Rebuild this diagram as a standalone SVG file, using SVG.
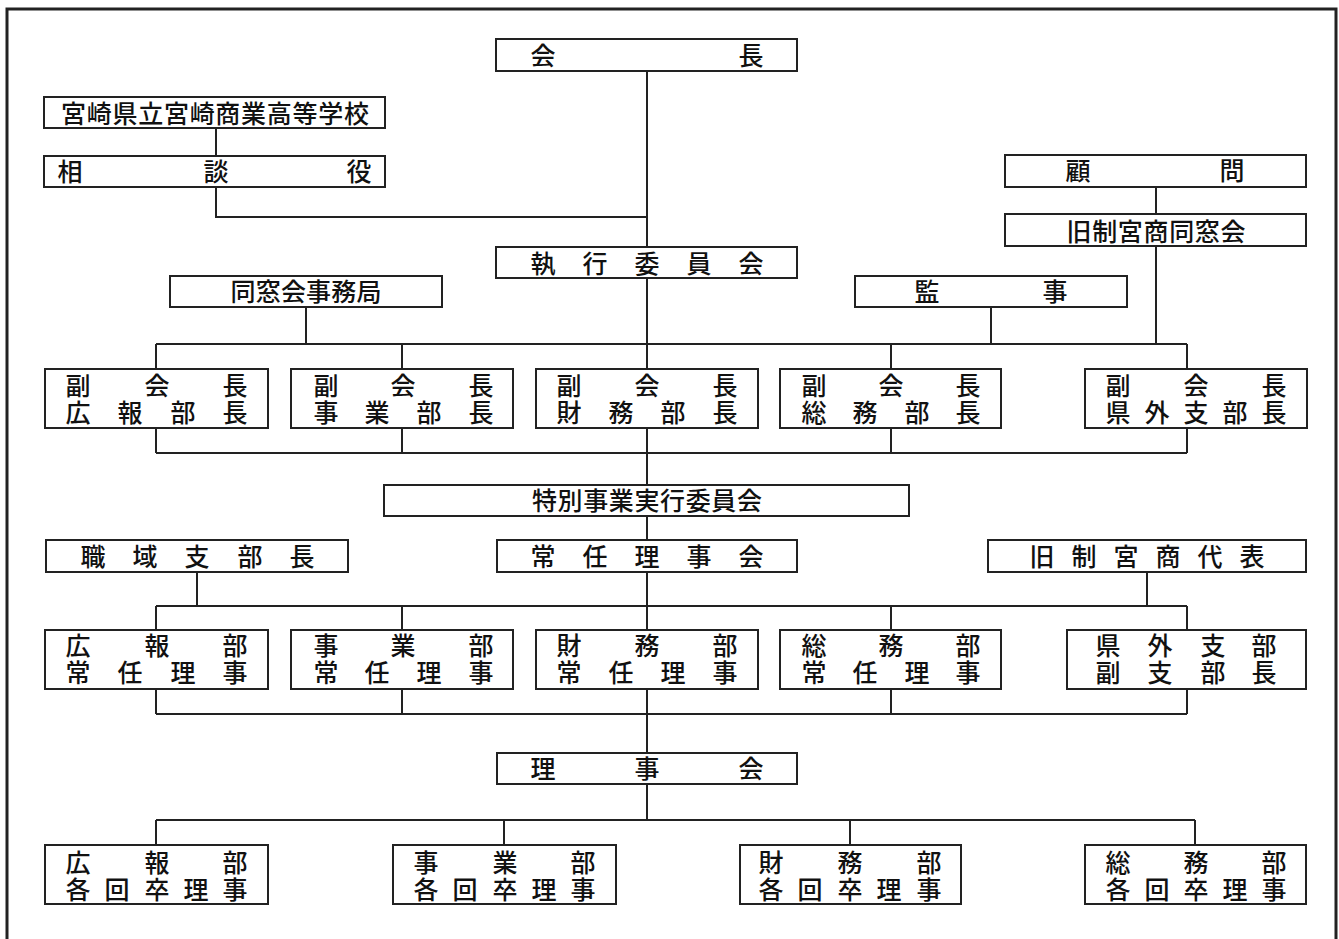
<svg xmlns="http://www.w3.org/2000/svg" width="1339" height="939" viewBox="0 0 1339 939">
<style>
.box{fill:#fff;stroke:#222;stroke-width:2}
.t{font-family:"Noto Sans CJK JP","Noto Sans CJK SC",sans-serif;font-size:25px;font-weight:500;fill:#111;text-anchor:middle}
.c{stroke:#222;stroke-width:2;fill:none}
.frame{stroke:#222;stroke-width:3;fill:none}
</style>
<rect x="0" y="0" width="1339" height="939" fill="#fff"/>
<path class="frame" d="M7,939 V9 H1336 V939"/>
<g id="connectors">
<path class="c" d="M647,71 V247 M216,128 V156 M216,187 V217 H647 M1156,187 V214 M1156,246 V344 M306,307 V344 M991,307 V344 M647,278 V369"/>
<path class="c" d="M156,344 H1187 M156,344 V369 M402,344 V369 M891,344 V369 M1187,344 V369"/>
<path class="c" d="M156,428 V453 M402,428 V453 M647,428 V485 M891,428 V453 M1187,428 V453 M156,453 H1187"/>
<path class="c" d="M647,516 V540 M647,572 V630 M197,572 V606 M1147,572 V606 M156,606 H1187 M156,606 V630 M402,606 V630 M891,606 V630 M1187,606 V630"/>
<path class="c" d="M156,689 V714 M402,689 V714 M647,689 V753 M891,689 V714 M1187,689 V714 M156,714 H1187"/>
<path class="c" d="M647,784 V820 M156,820 H1195 M156,820 V845 M504,820 V845 M850,820 V845 M1195,820 V845"/>
</g>
<g id="kaicho"><rect class="box" x="496" y="39" width="301" height="32"/><text class="t" x="543 751" y="65">会長</text></g>
<g id="school"><rect class="box" x="44" y="97" width="341" height="31"/><text class="t" x="215" y="123" textLength="308" lengthAdjust="spacing">宮崎県立宮崎商業高等学校</text></g>
<g id="sodanyaku"><rect class="box" x="44" y="156" width="341" height="31"/><text class="t" x="70 216 359" y="181">相談役</text></g>
<g id="komon"><rect class="box" x="1005" y="155" width="301" height="32"/><text class="t" x="1078 1232" y="180">顧問</text></g>
<g id="kyusei-dosokai"><rect class="box" x="1005" y="214" width="301" height="32"/><text class="t" x="1156" y="241" textLength="179" lengthAdjust="spacing">旧制宮商同窓会</text></g>
<g id="shikko"><rect class="box" x="496" y="247" width="301" height="31"/><text class="t" x="543 595 647 699 751" y="273">執行委員会</text></g>
<g id="jimukyoku"><rect class="box" x="170" y="276" width="272" height="31"/><text class="t" x="306" y="301" textLength="151" lengthAdjust="spacing">同窓会事務局</text></g>
<g id="kanji"><rect class="box" x="855" y="276" width="272" height="31"/><text class="t" x="927 1055" y="301">監事</text></g>
<g id="vice1"><rect class="box" x="45" y="369" width="223" height="59"/><text class="t" x="78 157 235" y="395">副会長</text><text class="t" x="78 130 183 235" y="422">広報部長</text></g>
<g id="vice2"><rect class="box" x="291" y="369" width="222" height="59"/><text class="t" x="326 403 481" y="395">副会長</text><text class="t" x="326 377 429 481" y="422">事業部長</text></g>
<g id="vice3"><rect class="box" x="536" y="369" width="222" height="59"/><text class="t" x="569 647 725" y="395">副会長</text><text class="t" x="569 621 673 725" y="422">財務部長</text></g>
<g id="vice4"><rect class="box" x="780" y="369" width="221" height="59"/><text class="t" x="814 891 968" y="395">副会長</text><text class="t" x="814 865 917 968" y="422">総務部長</text></g>
<g id="vice5"><rect class="box" x="1085" y="369" width="222" height="59"/><text class="t" x="1118 1196 1274" y="395">副会長</text><text class="t" x="1118 1157 1196 1235 1274" y="422">県外支部長</text></g>
<g id="tokubetsu"><rect class="box" x="384" y="485" width="525" height="31"/><text class="t" x="647" y="510" textLength="230" lengthAdjust="spacing">特別事業実行委員会</text></g>
<g id="shokuiki"><rect class="box" x="46" y="540" width="302" height="32"/><text class="t" x="93 145 197 250 302" y="566">職域支部長</text></g>
<g id="jonin-rijikai"><rect class="box" x="497" y="540" width="300" height="32"/><text class="t" x="543 595 647 699 751" y="566">常任理事会</text></g>
<g id="kyusei-daihyo"><rect class="box" x="988" y="540" width="318" height="32"/><text class="t" x="1042 1084 1126 1168 1210 1252" y="566">旧制宮商代表</text></g>
<g id="jonin1"><rect class="box" x="45" y="630" width="223" height="59"/><text class="t" x="78 157 235" y="655">広報部</text><text class="t" x="78 130 183 235" y="682">常任理事</text></g>
<g id="jonin2"><rect class="box" x="291" y="630" width="222" height="59"/><text class="t" x="326 403 481" y="655">事業部</text><text class="t" x="326 377 429 481" y="682">常任理事</text></g>
<g id="jonin3"><rect class="box" x="536" y="630" width="222" height="59"/><text class="t" x="569 647 725" y="655">財務部</text><text class="t" x="569 621 673 725" y="682">常任理事</text></g>
<g id="jonin4"><rect class="box" x="780" y="630" width="221" height="59"/><text class="t" x="814 891 968" y="655">総務部</text><text class="t" x="814 865 917 968" y="682">常任理事</text></g>
<g id="jonin5"><rect class="box" x="1067" y="630" width="239" height="59"/><text class="t" x="1108 1160 1213 1264" y="655">県外支部</text><text class="t" x="1108 1160 1213 1264" y="682">副支部長</text></g>
<g id="rijikai"><rect class="box" x="497" y="753" width="300" height="31"/><text class="t" x="543 647 751" y="778">理事会</text></g>
<g id="riji1"><rect class="box" x="45" y="845" width="223" height="59"/><text class="t" x="78 157 235" y="872">広報部</text><text class="t" x="78 117 157 196 235" y="899">各回卒理事</text></g>
<g id="riji2"><rect class="box" x="393" y="845" width="223" height="59"/><text class="t" x="426 505 583" y="872">事業部</text><text class="t" x="426 465 505 544 583" y="899">各回卒理事</text></g>
<g id="riji3"><rect class="box" x="740" y="845" width="221" height="59"/><text class="t" x="771 850 929" y="872">財務部</text><text class="t" x="771 810 850 889 929" y="899">各回卒理事</text></g>
<g id="riji4"><rect class="box" x="1085" y="845" width="221" height="59"/><text class="t" x="1118 1196 1274" y="872">総務部</text><text class="t" x="1118 1157 1196 1235 1274" y="899">各回卒理事</text></g>
</svg>
